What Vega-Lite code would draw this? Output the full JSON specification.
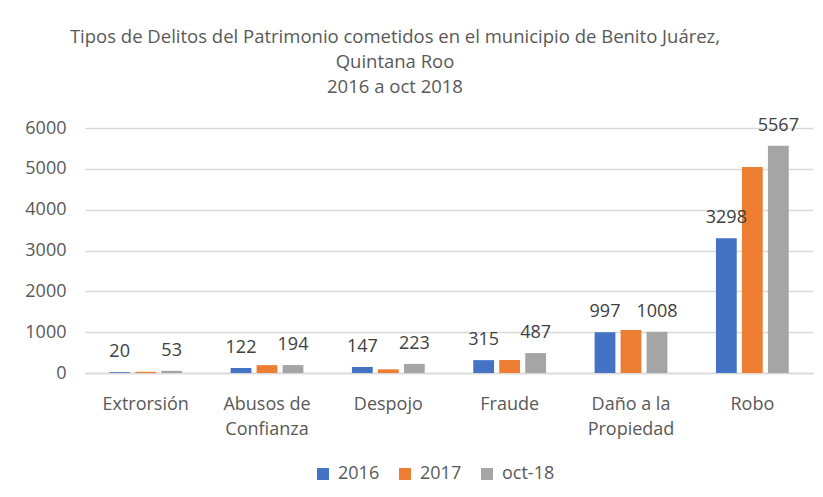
{
  "$schema": "https://vega.github.io/schema/vega-lite/v6.json",
  "width": 728,
  "height": 245,
  "autosize": {"type": "none"},
  "padding": {"left": 85, "top": 128, "right": 10, "bottom": 124},
  "background": "white",
  "title": {
    "text": ["Tipos de Delitos del Patrimonio cometidos en el municipio de Benito Juárez,", "Quintana Roo", "2016 a oct 2018"],
    "font": "Open Sans",
    "fontSize": 18.5,
    "fontWeight": "normal",
    "color": "#595959",
    "lineHeight": 25,
    "anchor": "middle",
    "dx": -54,
    "offset": 20
  },
  "data": {
    "values": [
      {"cat": "Extrorsión", "year": "2016", "value": 20},
      {"cat": "Extrorsión", "year": "2017", "value": 30},
      {"cat": "Extrorsión", "year": "oct-18", "value": 53},
      {"cat": "Abusos de\nConfianza", "year": "2016", "value": 122},
      {"cat": "Abusos de\nConfianza", "year": "2017", "value": 192},
      {"cat": "Abusos de\nConfianza", "year": "oct-18", "value": 194},
      {"cat": "Despojo", "year": "2016", "value": 147},
      {"cat": "Despojo", "year": "2017", "value": 90},
      {"cat": "Despojo", "year": "oct-18", "value": 223},
      {"cat": "Fraude", "year": "2016", "value": 315},
      {"cat": "Fraude", "year": "2017", "value": 318},
      {"cat": "Fraude", "year": "oct-18", "value": 487},
      {"cat": "Daño a  la\nPropiedad", "year": "2016", "value": 997},
      {"cat": "Daño a  la\nPropiedad", "year": "2017", "value": 1055},
      {"cat": "Daño a  la\nPropiedad", "year": "oct-18", "value": 1008},
      {"cat": "Robo", "year": "2016", "value": 3298},
      {"cat": "Robo", "year": "2017", "value": 5045},
      {"cat": "Robo", "year": "oct-18", "value": 5567}
    ]
  },
  "encoding": {
    "x": {
      "field": "cat",
      "type": "nominal",
      "sort": null,
      "scale": {"paddingInner": 0.4, "paddingOuter": 0.2},
      "axis": {
        "title": null,
        "labelAngle": 0,
        "labelExpr": "split(datum.label, '\\n')",
        "labelLineHeight": 25,
        "labelPadding": 22,
        "ticks": false,
        "domain": true,
        "domainColor": "#d9d9d9",
        "domainWidth": 1.5,
        "labelFont": "Open Sans",
        "labelFontSize": 18,
        "labelColor": "#595959"
      }
    },
    "xOffset": {"field": "year", "type": "nominal", "scale": {"paddingInner": 0.2}},
    "y": {
      "field": "value",
      "type": "quantitative",
      "scale": {"domain": [0, 6000], "nice": false},
      "axis": {
        "title": null,
        "values": [0, 1000, 2000, 3000, 4000, 5000, 6000],
        "format": "d",
        "domain": false,
        "ticks": false,
        "labelPadding": 19,
        "grid": true,
        "gridColor": "#d9d9d9",
        "gridWidth": 1.5,
        "labelFont": "Open Sans",
        "labelFontSize": 18,
        "labelColor": "#595959"
      }
    }
  },
  "layer": [
    {
      "mark": {"type": "bar"},
      "encoding": {
        "color": {
          "field": "year",
          "type": "nominal",
          "scale": {"domain": ["2016", "2017", "oct-18"], "range": ["#4472C4", "#ED7D31", "#A5A5A5"]},
          "legend": {
            "title": null,
            "orient": "none",
            "direction": "horizontal",
            "legendX": 229,
            "legendY": 337,
            "symbolType": "square",
            "symbolSize": 144,
            "symbolStrokeWidth": 0,
            "labelFont": "Open Sans",
            "labelFontSize": 18,
            "labelColor": "#595959",
            "columnPadding": 16,
            "labelOffset": 6
          }
        }
      }
    },
    {
      "transform": [{"filter": "datum.year != '2017'"}],
      "mark": {"type": "text", "baseline": "alphabetic", "dy": -15, "font": "Open Sans", "fontSize": 18, "color": "#404040"},
      "encoding": {
        "text": {"field": "value", "type": "quantitative", "format": "d"}
      }
    }
  ],
  "config": {"view": {"stroke": null}}
}
